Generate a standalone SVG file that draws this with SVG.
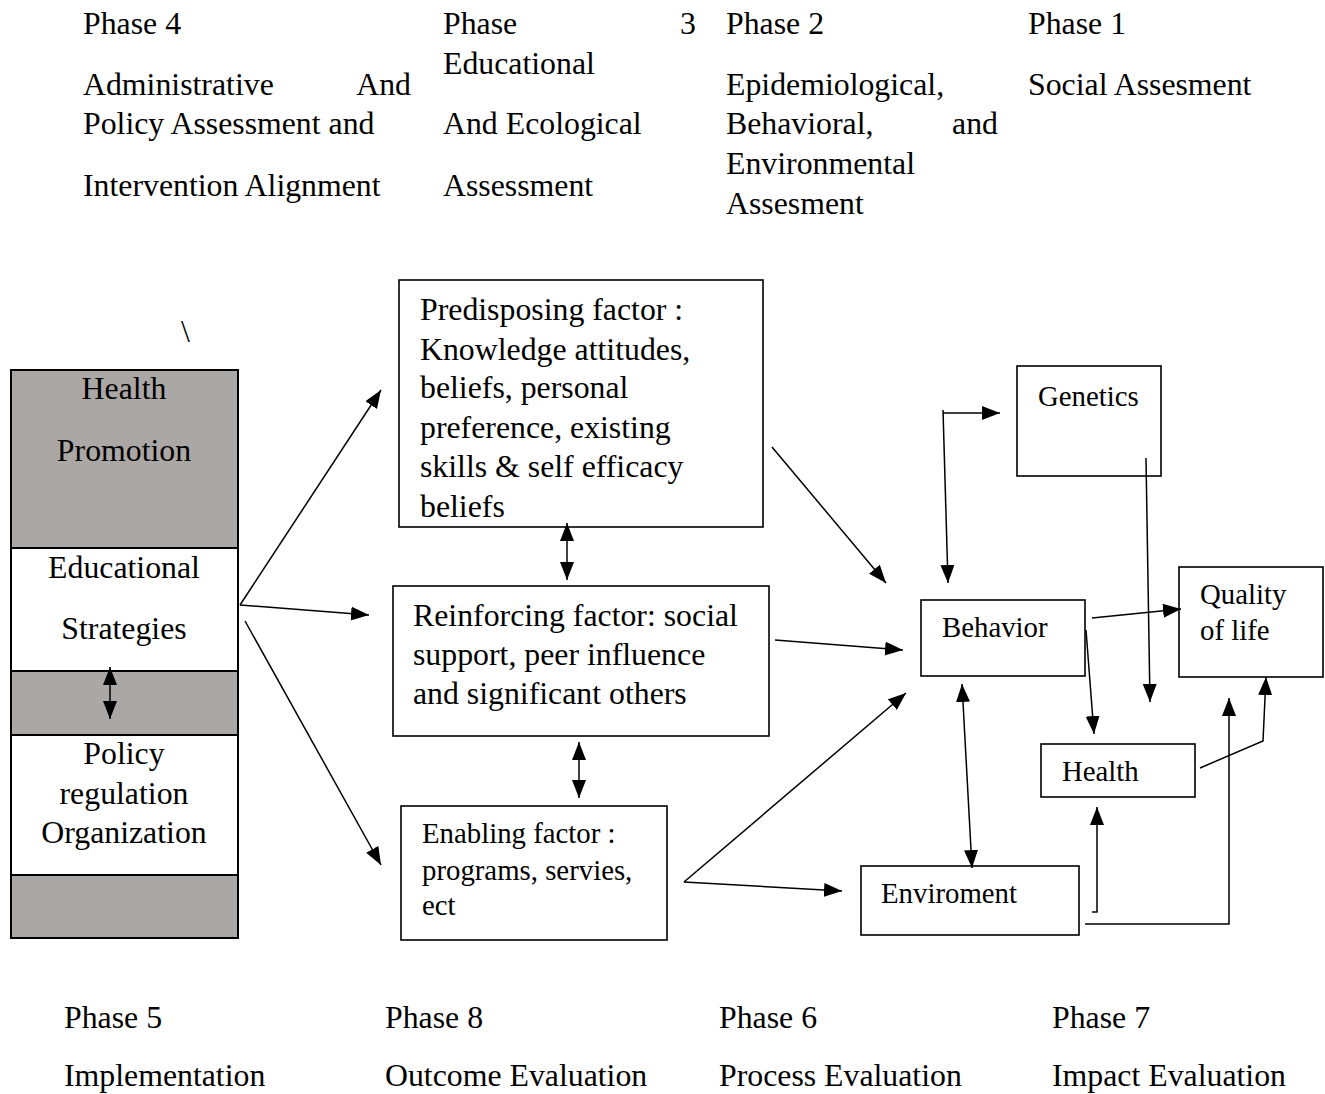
<svg xmlns="http://www.w3.org/2000/svg" width="1325" height="1094" viewBox="0 0 1325 1094">
<style>
  text { font-family: "Liberation Serif", "Times New Roman", serif; fill: #000; }
  .L { font-size: 31.8px; }
  .S { font-size: 28.8px; }
  .box { fill: #fff; stroke: #000; stroke-width: 1.6; }
  .grey { fill: #aba7a5; stroke: #000; stroke-width: 2; }
  .white { fill: #fff; stroke: #000; stroke-width: 2; }
  .c { fill: none; stroke: #000; stroke-width: 1.5; }
  .mid { text-anchor: middle; }
  .end { text-anchor: end; }
</style>
<defs>
  <marker id="ah" viewBox="0 0 18 14" refX="18" refY="7" markerWidth="18" markerHeight="14" markerUnits="userSpaceOnUse" orient="auto-start-reverse">
    <path d="M0,0 L18,7 L0,14 z" fill="#000"/>
  </marker>
</defs>
<rect width="1325" height="1094" fill="#fff"/>

<g id="header">
  <text class="L" x="83" y="34">Phase 4</text>
  <text class="L" x="83" y="95">Administrative</text>
  <text class="L end" x="411" y="95">And</text>
  <text class="L" x="83" y="134">Policy Assessment and</text>
  <text class="L" x="83" y="196">Intervention Alignment</text>
  <text class="L" x="443" y="34">Phase</text>
  <text class="L end" x="696" y="34">3</text>
  <text class="L" x="443" y="74">Educational</text>
  <text class="L" x="443" y="134">And Ecological</text>
  <text class="L" x="443" y="196">Assessment</text>
  <text class="L" x="726" y="34">Phase 2</text>
  <text class="L" x="726" y="95">Epidemiological,</text>
  <text class="L" x="726" y="134">Behavioral,</text>
  <text class="L end" x="998" y="134">and</text>
  <text class="L" x="726" y="174">Environmental</text>
  <text class="L" x="726" y="214">Assesment</text>
  <text class="L" x="1028" y="34">Phase 1</text>
  <text class="L" x="1028" y="95">Social Assesment</text>
  <text class="L" x="181" y="342">\</text>
</g>

<g id="footer">
  <text class="L" x="64" y="1028">Phase 5</text>
  <text class="L" x="64" y="1086">Implementation</text>
  <text class="L" x="385" y="1028">Phase 8</text>
  <text class="L" x="385" y="1086">Outcome Evaluation</text>
  <text class="L" x="719" y="1028">Phase 6</text>
  <text class="L" x="719" y="1086">Process Evaluation</text>
  <text class="L" x="1052" y="1028">Phase 7</text>
  <text class="L" x="1052" y="1086">Impact Evaluation</text>
</g>

<g id="health-promotion">
  <rect class="grey" x="11" y="370" width="227" height="178"/>
  <rect class="white" x="11" y="548" width="227" height="123"/>
  <rect class="grey" x="11" y="671" width="227" height="64"/>
  <rect class="white" x="11" y="735" width="227" height="140"/>
  <rect class="grey" x="11" y="875" width="227" height="63"/>
  <text class="L mid" x="124" y="399">Health</text>
  <text class="L mid" x="124" y="461">Promotion</text>
  <text class="L mid" x="124" y="578">Educational</text>
  <text class="L mid" x="124" y="639">Strategies</text>
  <text class="L mid" x="124" y="764">Policy</text>
  <text class="L mid" x="124" y="804">regulation</text>
  <text class="L mid" x="124" y="843">Organization</text>
</g>

<g id="predisposing">
  <rect class="box" x="399" y="280" width="364" height="247"/>
  <text class="L" x="420" y="320">Predisposing factor :</text>
  <text class="L" x="420" y="360">Knowledge attitudes,</text>
  <text class="L" x="420" y="398">beliefs, personal</text>
  <text class="L" x="420" y="438">preference, existing</text>
  <text class="L" x="420" y="477">skills &amp; self efficacy</text>
  <text class="L" x="420" y="517">beliefs</text>
</g>

<g id="reinforcing">
  <rect class="box" x="393" y="586" width="376" height="150"/>
  <text class="L" x="413" y="626">Reinforcing factor: social</text>
  <text class="L" x="413" y="665">support, peer influence</text>
  <text class="L" x="413" y="704">and significant others</text>
</g>

<g id="enabling">
  <rect class="box" x="401" y="806" width="266" height="134"/>
  <text class="S" x="422" y="843">Enabling factor :</text>
  <text class="S" x="422" y="880">programs,  servies,</text>
  <text class="S" x="422" y="915">ect</text>
</g>

<g id="genetics">
  <rect class="box" x="1017" y="366" width="144" height="110"/>
  <text class="S" x="1038" y="406">Genetics</text>
</g>

<g id="behavior">
  <rect class="box" x="921" y="600" width="164" height="76"/>
  <text class="S" x="942" y="637">Behavior</text>
</g>

<g id="quality">
  <rect class="box" x="1179" y="567" width="144" height="110"/>
  <text class="S" x="1200" y="604">Quality</text>
  <text class="S" x="1200" y="640">of life</text>
</g>

<g id="health">
  <rect class="box" x="1041" y="744" width="154" height="53"/>
  <text class="S" x="1062" y="781">Health</text>
</g>

<g id="enviroment">
  <rect class="box" x="861" y="866" width="218" height="69"/>
  <text class="S" x="881" y="903">Enviroment</text>
</g>

<g id="connectors">
  <line class="c" x1="240" y1="605" x2="381" y2="390" marker-end="url(#ah)"/>
  <line class="c" x1="240" y1="605" x2="369" y2="615" marker-end="url(#ah)"/>
  <line class="c" x1="245" y1="621" x2="381" y2="865" marker-end="url(#ah)"/>
  <line class="c" x1="110" y1="667" x2="110" y2="719" marker-start="url(#ah)" marker-end="url(#ah)"/>
  <line class="c" x1="567" y1="523" x2="567" y2="580" marker-start="url(#ah)" marker-end="url(#ah)"/>
  <line class="c" x1="579" y1="742" x2="579" y2="798" marker-start="url(#ah)" marker-end="url(#ah)"/>
  <line class="c" x1="772" y1="447" x2="886" y2="583" marker-end="url(#ah)"/>
  <line class="c" x1="775" y1="640" x2="903" y2="650" marker-end="url(#ah)"/>
  <line class="c" x1="684" y1="882" x2="906" y2="693" marker-end="url(#ah)"/>
  <line class="c" x1="684" y1="882" x2="842" y2="891" marker-end="url(#ah)"/>
  <line class="c" x1="943" y1="413" x2="1000" y2="413" marker-end="url(#ah)"/>
  <line class="c" x1="943" y1="410" x2="948" y2="583" marker-end="url(#ah)"/>
  <line class="c" x1="1146" y1="458" x2="1150" y2="702" marker-end="url(#ah)"/>
  <line class="c" x1="1092" y1="618" x2="1181" y2="609" marker-end="url(#ah)"/>
  <line class="c" x1="1086" y1="630" x2="1094" y2="734" marker-end="url(#ah)"/>
  <line class="c" x1="962" y1="684" x2="972" y2="868" marker-start="url(#ah)" marker-end="url(#ah)"/>
  <polyline class="c" points="1200,768 1263,741 1266,677" marker-end="url(#ah)"/>
  <polyline class="c" points="1092,912 1097,912 1097,807" marker-end="url(#ah)"/>
  <polyline class="c" points="1085,924 1229,924 1229,698" marker-end="url(#ah)"/>
</g>
</svg>
